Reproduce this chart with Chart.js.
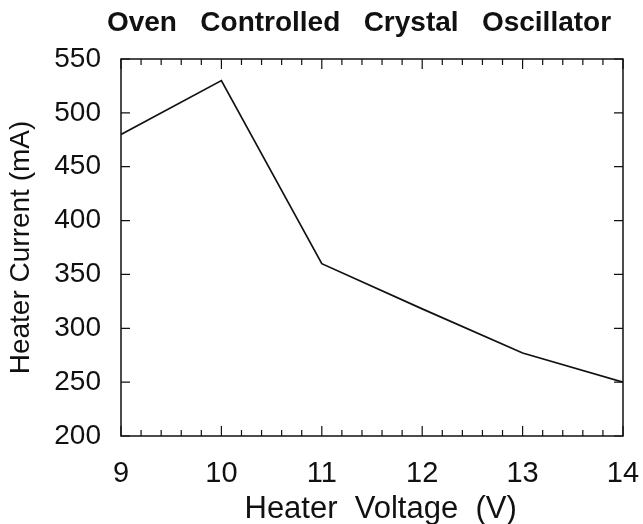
<!DOCTYPE html>
<html>
<head>
<meta charset="utf-8">
<script src="https://cdn.jsdelivr.net/npm/chart.js@4/dist/chart.umd.min.js"></script>
<style>
  html, body { margin: 0; padding: 0; background: #fff; }
  #wrap { width: 643px; height: 524px; }
</style>
</head>
<body>
<div id="wrap"><canvas id="ocxo" width="643" height="524"></canvas></div>
<script>
const voltage = [9, 10, 11, 12, 13, 14];
const current = [480, 530, 360, 318, 277, 250];
const xTicks = [9, 10, 11, 12, 13, 14];
const yTicks = [200, 250, 300, 350, 400, 450, 500, 550];
const titulo = 'Oven   Controlled   Crystal   Oscillator';

// marcas hacia adentro en los cuatro lados + marco
const marcas = {
  id: 'marcas',
  afterDraw(chart) {
    const ctx = chart.ctx;
    const a = chart.chartArea;
    const sx = chart.scales.x;
    const sy = chart.scales.y;
    ctx.save();
    ctx.strokeStyle = '#111';
    ctx.lineWidth = 1.5;
    ctx.strokeRect(a.left, a.top, a.right - a.left, a.bottom - a.top);
    ctx.lineWidth = 1.2;
    ctx.beginPath();
    for (let i = 0; i <= 25; i++) {
      const v = 9 + i * 0.2;
      const px = sx.getPixelForValue(v);
      const len = (i % 5 === 0) ? 10 : 6;
      ctx.moveTo(px, a.bottom);
      ctx.lineTo(px, a.bottom - len);
      ctx.moveTo(px, a.top);
      ctx.lineTo(px, a.top + len);
    }
    for (let v of yTicks) {
      const py = sy.getPixelForValue(v);
      ctx.moveTo(a.left, py);
      ctx.lineTo(a.left + 9, py);
      ctx.moveTo(a.right, py);
      ctx.lineTo(a.right - 9, py);
    }
    ctx.stroke();

    ctx.fillStyle = '#111';
    ctx.font = 'bold 28px "Liberation Sans"';
    ctx.textAlign = 'center';
    ctx.textBaseline = 'middle';
    ctx.fillText(titulo, 359, 23);
    ctx.restore();
  }
};

const ctx = document.getElementById('ocxo');
new Chart(ctx, {
  type: 'line',
  data: {
    datasets: [{
      data: voltage.map((v, i) => ({x: v, y: current[i]})),
      borderColor: '#111',
      borderWidth: 1.7,
      pointRadius: 0,
      tension: 0,
      fill: false
    }]
  },
  options: {
    responsive: false,
    animation: false,
    layout: { padding: { top: 59, right: 0, left: 0, bottom: 0 } },
    plugins: {
      legend: { display: false },
      tooltip: { enabled: false }
    },
    scales: {
      x: {
        type: 'linear',
        min: 9,
        max: 14,
        afterBuildTicks: s => { s.ticks = xTicks.map(v => ({value: v})); },
        afterFit: s => { s.height = 88; s.paddingRight = 20; },
        grid: { display: false },
        border: { display: false },
        ticks: { color: '#111', padding: 13, font: { family: 'Liberation Sans', size: 29 } },
        title: {
          display: true,
          text: '  Heater  Voltage  (V)',
          color: '#111',
          padding: { top: 0, bottom: -4 },
          font: { family: 'Liberation Sans', size: 31 }
        }
      },
      y: {
        min: 200,
        max: 550,
        afterBuildTicks: s => { s.ticks = yTicks.map(v => ({value: v})); },
        afterFit: s => { s.width = 121; },
        grid: { display: false },
        border: { display: false },
        ticks: { color: '#111', padding: 12, font: { family: 'Liberation Sans', size: 28 } },
        title: {
          display: true,
          text: 'Heater Current (mA)',
          color: '#111',
          padding: { top: 4, bottom: 0 },
          font: { family: 'Liberation Sans', size: 28 }
        }
      }
    }
  },
  plugins: [marcas]
});
</script>
</body>
</html>
